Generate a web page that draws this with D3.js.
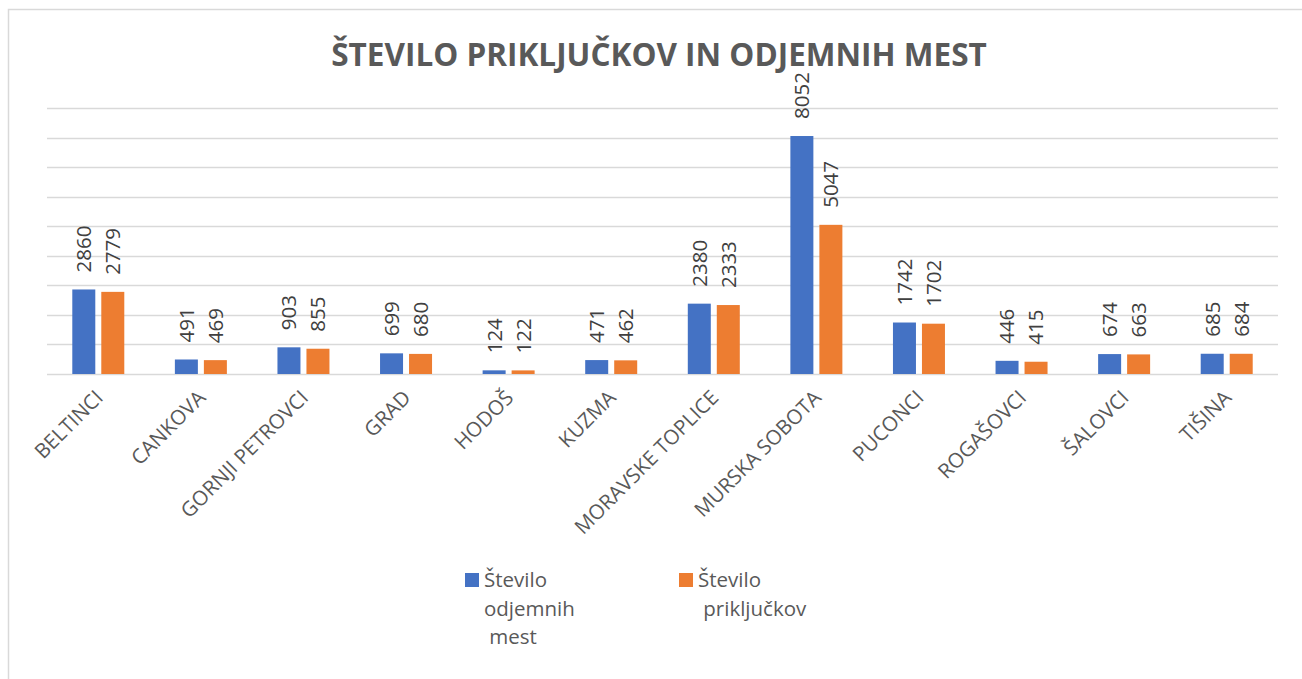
<!DOCTYPE html>
<html>
<head>
<meta charset="utf-8">
<script src="https://cdn.jsdelivr.net/npm/d3@7"></script>
<style>
  body { margin: 0; background: #fff; }
  svg { display: block; }
  text { font-family: "Open Sans", "Noto Sans", sans-serif; }
</style>
</head>
<body>
<div id="chart"></div>
<script>
// Data
const categories = ["BELTINCI", "CANKOVA", "GORNJI PETROVCI", "GRAD", "HODOŠ", "KUZMA",
    "MORAVSKE TOPLICE", "MURSKA SOBOTA", "PUCONCI", "ROGAŠOVCI", "ŠALOVCI", "TIŠINA"];
const odjemnaMesta = [2860, 491, 903, 699, 124, 471, 2380, 8052, 1742, 446, 674, 685];
const prikljucki = [2779, 469, 855, 680, 122, 462, 2333, 5047, 1702, 415, 663, 684];
const seriesNames = [["Število", "odjemnih", " mest"], ["Število", " priključkov"]];
const seriesColors = ["#4472C4", "#ED7D31"];
const yTicks = [0, 1000, 2000, 3000, 4000, 5000, 6000, 7000, 8000, 9000];

const width = 1302, height = 679;
const plot = { left: 47, right: 1278, top: 108, bottom: 374 };

const svg = d3.select("#chart").append("svg")
    .attr("width", width)
    .attr("height", height);

// chart frame
svg.append("rect")
    .attr("x", 8.5).attr("y", 9.5)
    .attr("width", 1310).attr("height", 700)
    .attr("fill", "#fff")
    .attr("stroke", "#d9d9d9")
    .attr("stroke-width", 1.5);

svg.append("text")
    .attr("x", 659).attr("y", 66)
    .attr("text-anchor", "middle")
    .attr("font-size", 31.5)
    .attr("font-weight", 700)
    .attr("fill", "#595959")
    .text("ŠTEVILO PRIKLJUČKOV IN ODJEMNIH MEST");

const y = d3.scaleLinear().domain([0, 9000]).range([plot.bottom, plot.top]);
const x0 = d3.scaleBand().domain(categories).range([plot.left, plot.right]);
const groupW = 52;
const x1 = d3.scaleBand().domain([0, 1])
    .range([x0.bandwidth() / 2 - groupW / 2, x0.bandwidth() / 2 + groupW / 2])
    .paddingInner(6 / 29);

// gridlines
svg.append("g")
    .selectAll("line")
    .data(yTicks)
    .join("line")
    .attr("x1", plot.left).attr("x2", plot.right)
    .attr("y1", d => Math.round(y(d)) + 0.5)
    .attr("y2", d => Math.round(y(d)) + 0.5)
    .attr("stroke", "#d9d9d9")
    .attr("stroke-width", 1.5);

const series = [odjemnaMesta, prikljucki];
const rows = categories.map((c, i) => ({ cat: c, vals: series.map(s => s[i]) }));

const groups = svg.append("g")
    .selectAll("g")
    .data(rows)
    .join("g")
    .attr("transform", d => `translate(${x0(d.cat)},0)`);

groups.selectAll("rect")
    .data(d => d.vals.map((v, k) => ({ k, v })))
    .join("rect")
    .attr("x", d => x1(d.k))
    .attr("width", x1.bandwidth())
    .attr("y", d => y(d.v))
    .attr("height", d => y(0) - y(d.v))
    .attr("fill", d => seriesColors[d.k]);

// data labels, rotated
groups.selectAll("text")
    .data(d => d.vals.map((v, k) => ({ k, v })))
    .join("text")
    .attr("transform", d => `translate(${x1(d.k) + x1.bandwidth() / 2},${y(d.v) - 17}) rotate(-90)`)
    .attr("dy", "0.36em")
    .attr("font-size", 20.5)
    .attr("fill", "#404040")
    .text(d => d.v);

// category labels
svg.append("g")
    .selectAll("text")
    .data(categories)
    .join("text")
    .attr("transform", d => `translate(${x0(d) + x0.bandwidth() / 2 + 6},${plot.bottom + 25}) rotate(-45)`)
    .attr("text-anchor", "end")
    .attr("font-size", 20.5)
    .attr("fill", "#595959")
    .text(d => d);

// legend
const legendX = [465, 679];
const legend = svg.append("g")
    .selectAll("g")
    .data(seriesNames)
    .join("g")
    .attr("transform", (d, i) => `translate(${legendX[i]},573)`);

legend.append("rect")
    .attr("width", 14).attr("height", 14)
    .attr("fill", (d, i) => seriesColors[i]);

legend.append("text")
    .attr("x", 19).attr("y", 14)
    .attr("font-size", 20.5)
    .attr("fill", "#595959")
    .attr("xml:space", "preserve")
    .style("white-space", "pre")
    .selectAll("tspan")
    .data(d => d)
    .join("tspan")
    .attr("x", 19)
    .attr("dy", (d, i) => i === 0 ? 0 : 28.5)
    .text(d => d);
</script>
</body>
</html>
